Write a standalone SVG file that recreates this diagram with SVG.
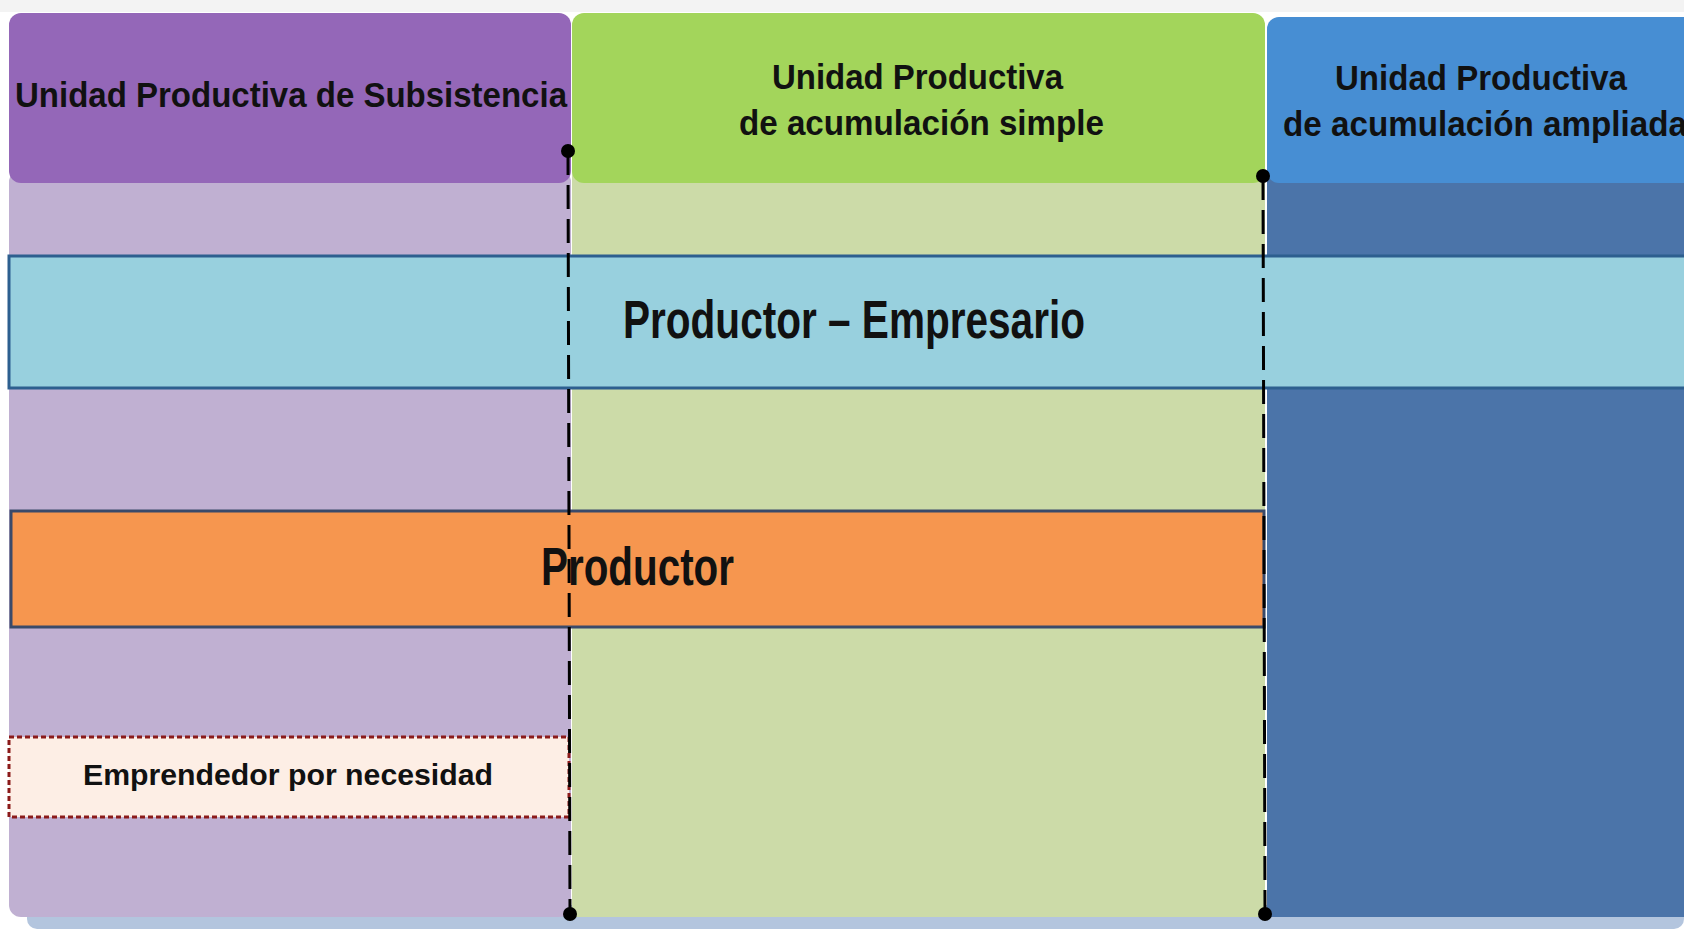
<svg xmlns="http://www.w3.org/2000/svg" width="1684" height="929" viewBox="0 0 1684 929">
<defs>
<style>
.t{font-family:"Liberation Sans",Arial,sans-serif;font-weight:bold;fill:#111;}
.hdr{font-size:35px;text-anchor:start;}
.band{stroke-width:3;}
.conn{fill:none;stroke:#000;stroke-width:3;stroke-dasharray:24 10;}
</style>
<marker id="dot" viewBox="-8 -8 16 16" markerWidth="16" markerHeight="16" markerUnits="userSpaceOnUse" refX="0" refY="0">
<circle cx="0" cy="0" r="7" fill="#000"/>
</marker>
</defs>
<rect width="1684" height="929" fill="#ffffff"/>
<rect x="0" y="0" width="1684" height="12" fill="#f3f3f3"/>
<rect x="27" y="905" width="1657" height="24" rx="10" fill="#b3c5de"/>

<g id="col-subsistencia">
<rect x="9" y="170" width="562" height="747" rx="12" fill="#c0b0d2"/>
<rect x="9" y="13" width="562" height="170" rx="12" fill="#9467b8"/>
<text class="t hdr" x="15" y="107" font-size="34" textLength="552" lengthAdjust="spacingAndGlyphs">Unidad Productiva de Subsistencia</text>
</g>

<g id="col-simple">
<rect x="572" y="170" width="693" height="747" fill="#ccdba8"/>
<rect x="572" y="13" width="693" height="170" rx="12" fill="#a3d55b"/>
<text class="t hdr" x="772" y="89" textLength="291" lengthAdjust="spacingAndGlyphs">Unidad Productiva</text>
<text class="t hdr" x="739" y="135" textLength="365" lengthAdjust="spacingAndGlyphs">de acumulación simple</text>
</g>

<g id="col-ampliada">
<rect x="1267" y="170" width="430" height="747" fill="#4b74a9"/>
<rect x="1267" y="17" width="430" height="166" rx="12" fill="#478ed3"/>
<text class="t hdr" x="1335" y="90" textLength="292" lengthAdjust="spacingAndGlyphs">Unidad Productiva</text>
<text class="t hdr" x="1283" y="136" textLength="404" lengthAdjust="spacingAndGlyphs">de acumulación ampliada</text>
</g>

<g id="productor-empresario">
<rect class="band" x="9" y="256" width="1690" height="132" fill="#98d0de" stroke="#2d5f8f"/>
<text class="t" x="623" y="338" font-size="54" textLength="462" lengthAdjust="spacingAndGlyphs">Productor – Empresario</text>
</g>

<g id="productor">
<rect class="band" x="11" y="511" width="1253" height="116" fill="#f6964f" stroke="#3a4a6a"/>
<text class="t" x="541" y="585" font-size="54" textLength="193" lengthAdjust="spacingAndGlyphs">Productor</text>
</g>

<g id="emprendedor">
<rect x="9" y="737" width="560" height="80" fill="#fdeee5" stroke="#8b1a1a" stroke-width="3" stroke-dasharray="5 3"/>
<text class="t" x="83" y="785" font-size="30" textLength="410" lengthAdjust="spacingAndGlyphs">Emprendedor por necesidad</text>
</g>

<g id="connectors">
<path class="conn" d="M568 151 L570 914" marker-start="url(#dot)" marker-end="url(#dot)"/>
<path class="conn" d="M1263 176 L1265 914" marker-start="url(#dot)" marker-end="url(#dot)"/>
</g>
</svg>
